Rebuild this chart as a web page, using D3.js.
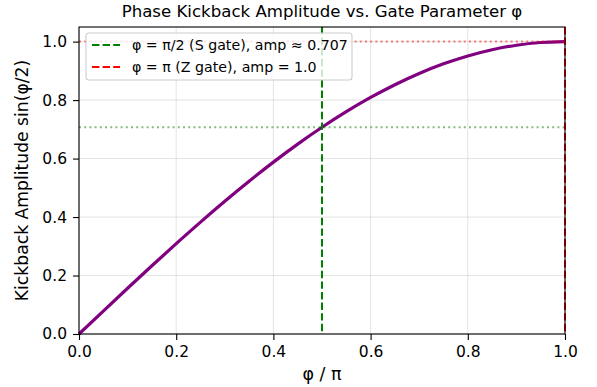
<!DOCTYPE html>
<html><head><meta charset="utf-8">
<script src="https://cdn.jsdelivr.net/npm/d3@7"></script>
<style>body{margin:0;background:#fff;}svg{font-family:"DejaVu Sans",sans-serif;}</style>
</head><body>
<svg id="c" width="597" height="387"></svg>
<script>
const phiOverPi = [0,0.05,0.1,0.15,0.2,0.25,0.3,0.35,0.4,0.45,0.5,0.55,0.6,0.65,0.7,0.75,0.8,0.85,0.9,0.95,1.0];
const amplitude = [0,0.0785,0.1564,0.2334,0.309,0.3827,0.454,0.5225,0.5878,0.6494,0.7071,0.7604,0.809,0.8526,0.891,0.9239,0.9511,0.9724,0.9877,0.9969,1.0];
const xTicks = [0,0.2,0.4,0.6,0.8,1.0];
const yTicks = [0,0.2,0.4,0.6,0.8,1.0];
const sGate = {x:0.5, amp:0.707, label:"φ = π/2 (S gate), amp ≈ 0.707", color:"#008000"};
const zGate = {x:1.0, amp:1.0, label:"φ = π (Z gate), amp = 1.0", color:"#ff0000"};

const svg = d3.select("#c");
const L=79, R=565, T=27, B=334;
const x = d3.scaleLinear().domain([0,1]).range([L,R]);
const y = d3.scaleLinear().domain([0,1.05]).range([B,T]);

// grid
svg.append("g").selectAll("line").data(xTicks).join("line")
  .attr("x1",d=>x(d)).attr("x2",d=>x(d)).attr("y1",T).attr("y2",B)
  .attr("stroke","#b0b0b0").attr("stroke-opacity",0.35).attr("stroke-width",1);
svg.append("g").selectAll("line").data(yTicks).join("line")
  .attr("x1",L).attr("x2",R).attr("y1",d=>y(d)).attr("y2",d=>y(d))
  .attr("stroke","#b0b0b0").attr("stroke-opacity",0.35).attr("stroke-width",1);

// curve
const line = d3.line().x((d,i)=>x(phiOverPi[i])).y(d=>y(d)).curve(d3.curveMonotoneX);
svg.append("path").datum(amplitude).attr("d",line).attr("fill","none")
  .attr("stroke","#800080").attr("stroke-width",3.2);

// reference lines
[sGate,zGate].forEach(g=>{
  svg.append("line").attr("x1",L).attr("x2",R).attr("y1",y(g.amp)).attr("y2",y(g.amp))
    .attr("stroke",g.color).attr("stroke-opacity",0.5).attr("stroke-width",2).attr("stroke-dasharray","2,3.2");
  svg.append("line").attr("x1",x(g.x)).attr("x2",x(g.x)).attr("y1",T).attr("y2",B)
    .attr("stroke",g.color).attr("stroke-width",2).attr("stroke-dasharray","7.4,3.2");
});

// spines
svg.append("rect").attr("x",L).attr("y",T).attr("width",R-L).attr("height",B-T)
  .attr("fill","none").attr("stroke","#000").attr("stroke-width",1.1);

// axes
const xa = svg.append("g").attr("transform",`translate(0,${B})`)
  .call(d3.axisBottom(x).tickValues(xTicks).tickFormat(d3.format(".1f")).tickSize(6).tickPadding(5));
const ya = svg.append("g").attr("transform",`translate(${L},0)`)
  .call(d3.axisLeft(y).tickValues(yTicks).tickFormat(d3.format(".1f")).tickSize(6).tickPadding(6));
[xa,ya].forEach(a=>{
  a.select(".domain").remove();
  a.selectAll("text").attr("font-size",15.5).attr("fill","#000").attr("font-family","DejaVu Sans");
  a.selectAll("line").attr("stroke","#000").attr("stroke-width",1.1);
});
xa.selectAll("text").attr("dy","0.8em");

// titles
svg.append("text").attr("x",(L+R)/2).attr("y",17).attr("text-anchor","middle")
  .attr("font-size",16.6).text("Phase Kickback Amplitude vs. Gate Parameter φ");
svg.append("text").attr("x",(L+R)/2).attr("y",380).attr("text-anchor","middle")
  .attr("font-size",17.5).text("φ / π");
svg.append("text").attr("transform",`translate(28,${(T+B)/2}) rotate(-90)`).attr("text-anchor","middle")
  .attr("font-size",17.2).text("Kickback Amplitude sin(φ/2)");

// legend
const lg = svg.append("g").attr("transform","translate(86,33)");
lg.append("rect").attr("width",266).attr("height",47).attr("rx",3)
  .attr("fill","#fff").attr("fill-opacity",0.8).attr("stroke","#cccccc").attr("stroke-width",1.1);
[sGate,zGate].forEach((g,i)=>{
  const yy = 12 + i*22;
  lg.append("line").attr("x1",6).attr("x2",34).attr("y1",yy).attr("y2",yy)
    .attr("stroke",g.color).attr("stroke-width",2).attr("stroke-dasharray","7.4,3.2");
  lg.append("text").attr("x",46).attr("y",yy+5).attr("font-size",14.2).text(g.label);
});
</script>
</body></html>
